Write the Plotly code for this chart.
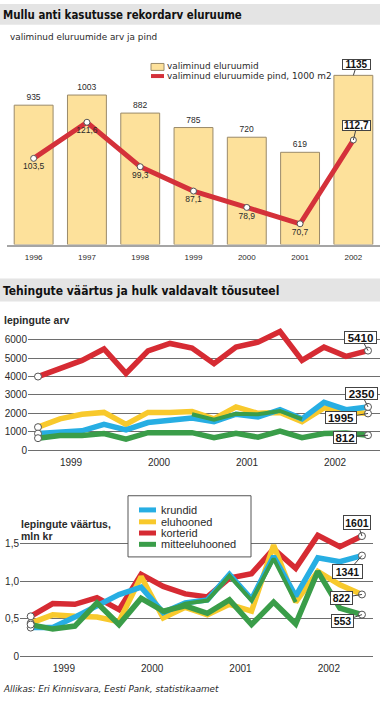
import plotly.graph_objects as go

# ---------------- data ----------------
years_top = ["1996", "1997", "1998", "1999", "2000", "2001", "2002"]
completed_dwellings = [935, 1003, 882, 785, 720, 619, 1135]
dwelling_area = [103.5, 121.6, 99.3, 87.1, 78.9, 70.7, 112.7]

quarters = ["1999 I", "1999 II", "1999 III", "1999 IV",
            "2000 I", "2000 II", "2000 III", "2000 IV",
            "2001 I", "2001 II", "2001 III", "2001 IV",
            "2002 I", "2002 II", "2002 III", "2002 IV"]
year_ticks = ["1999", "2000", "2001", "2002"]

count_korterid = [4000, 4450, 4880, 5500, 4170, 5400, 5800, 5550,
                  4700, 5600, 5870, 6450, 4880, 5600, 5100, 5410]
count_eluhooned = [1250, 1700, 1950, 2050, 1400, 2050, 2050, 2100,
                   1700, 2350, 2000, 2050, 1550, 2300, 2100, 1995]
count_krundid = [900, 1000, 1050, 1400, 1100, 1500, 1600, 1750,
                 1550, 1950, 1800, 2200, 1700, 2600, 2200, 2350]
count_mitteeluhooned = [650, 800, 800, 900, 600, 950, 950, 950,
                        680, 920, 700, 1040, 680, 900, 930, 812]
count_green_overlay = [None, None, None, None, None, None, None, 1950,
                       1650, 1980, 1950, 2130, 1680, None, None, None]

value_korterid = [0.53, 0.70, 0.69, 0.78, 0.62, 1.09, 0.93, 0.83,
                  0.79, 1.04, 1.10, 1.43, 1.17, 1.61, 1.46, 1.601]
value_krundid = [0.38, 0.38, 0.52, 0.66, 0.82, 0.92, 0.58, 0.71,
                 0.75, 1.09, 0.76, 1.33, 0.80, 1.31, 1.26, 1.341]
value_eluhooned = [0.44, 0.55, 0.53, 0.52, 0.46, 1.06, 0.51, 0.65,
                   0.55, 0.69, 0.60, 1.48, 0.72, 1.13, 0.95, 0.822]
value_mitteeluhooned = [0.42, 0.36, 0.40, 0.71, 0.42, 0.77, 0.60, 0.67,
                        0.57, 0.75, 0.42, 0.72, 0.43, 1.13, 0.64, 0.553]
value_green_overlay = [None, None, None, None, None, None, 0.58, 0.70,
                       0.74, 1.07, 0.74, 1.30, 0.72, None, None, None]

series_names = ["krundid", "eluhooned", "korterid", "mitteeluhooned"]

# ---------------- style ----------------
W, H = 380, 705
BAR_FILL = "#fde19b"
BAR_EDGE = "#9a8a6a"
RED_TOP = "#d4313a"
RED = "#d62b33"
YELLOW = "#f8c92c"
BLUE = "#27aee3"
GREEN = "#3a9d49"
GRID = "#6e6e6e"
TXT = "#2a2a2a"
COND = "DejaVu Sans Condensed"
VERD = "DejaVu Sans"
ARIAL = "Liberation Sans"


def px(x):
    return x / W


def py(y):
    return 1 - y / H


qx = list(range(len(quarters)))
mid_tickvals = [qx[i * 4] + 1.5 for i in range(len(year_ticks))]
top_idx = list(range(len(years_top)))

fig = go.Figure()

# ---------------- top chart ----------------
fig.add_trace(go.Bar(
    x=top_idx, y=completed_dwellings, xaxis="x", yaxis="y",
    marker=dict(color=BAR_FILL, line=dict(color=BAR_EDGE, width=1)),
    text=[str(v) for v in completed_dwellings[:-1]] + [""],
    textposition="outside", textfont=dict(family=ARIAL, size=8.5, color=TXT),
    constraintext="none", cliponaxis=False, showlegend=False, hoverinfo="skip"))
fig.add_trace(go.Scatter(
    x=top_idx, y=dwelling_area, xaxis="x", yaxis="y2",
    mode="lines+markers+text",
    line=dict(color=RED_TOP, width=5),
    marker=dict(size=6, color="white", line=dict(color="#555", width=1)),
    text=[f"{v:.1f}".replace(".", ",") for v in dwelling_area[:-1]] + [""],
    textposition="bottom center", textfont=dict(family=ARIAL, size=8.5, color=TXT),
    cliponaxis=False, showlegend=False, hoverinfo="skip"))

# ---------------- middle chart ----------------
mid_series = [(count_korterid, RED), (count_eluhooned, YELLOW),
              (count_krundid, BLUE), (count_mitteeluhooned, GREEN)]
for arr, col in mid_series:
    fig.add_trace(go.Scatter(x=qx, y=arr, xaxis="x3", yaxis="y3", mode="lines",
                             line=dict(color=col, width=5.5), showlegend=False,
                             hoverinfo="skip", cliponaxis=False))
fig.add_trace(go.Scatter(x=qx, y=count_green_overlay, xaxis="x3", yaxis="y3", mode="lines",
                         line=dict(color=GREEN, width=4), showlegend=False,
                         hoverinfo="skip", connectgaps=False))
for arr, col in mid_series:
    fig.add_trace(go.Scatter(x=[qx[0], qx[-1]], y=[arr[0], arr[-1]], xaxis="x3", yaxis="y3",
                             mode="markers",
                             marker=dict(size=7, color="white", line=dict(color="#555", width=1)),
                             showlegend=False, hoverinfo="skip", cliponaxis=False))

# ---------------- bottom chart ----------------
bot_series = [(value_korterid, RED), (value_eluhooned, YELLOW),
              (value_krundid, BLUE), (value_mitteeluhooned, GREEN)]
for arr, col in bot_series:
    fig.add_trace(go.Scatter(x=qx, y=arr, xaxis="x4", yaxis="y4", mode="lines",
                             line=dict(color=col, width=5.5), showlegend=False,
                             hoverinfo="skip", cliponaxis=False))
fig.add_trace(go.Scatter(x=qx, y=value_green_overlay, xaxis="x4", yaxis="y4", mode="lines",
                         line=dict(color=GREEN, width=4), showlegend=False,
                         hoverinfo="skip", connectgaps=False))
for arr, col in bot_series:
    fig.add_trace(go.Scatter(x=[qx[0], qx[-1]], y=[arr[0], arr[-1]], xaxis="x4", yaxis="y4",
                             mode="markers",
                             marker=dict(size=7, color="white", line=dict(color="#555", width=1)),
                             showlegend=False, hoverinfo="skip", cliponaxis=False))

# ---------------- axes ----------------
fig.update_layout(
    width=W, height=H, autosize=False,
    margin=dict(l=0, r=0, t=0, b=0, pad=0),
    paper_bgcolor="white", plot_bgcolor="rgba(0,0,0,0)",
    showlegend=False, bargap=0.27,
    xaxis=dict(domain=[px(7), 1], anchor="y", range=[-0.5, 6.5],
               tickvals=top_idx, ticktext=years_top,
               showline=True, linecolor="#a5a5a5", linewidth=2, ticks="",
               showgrid=False, zeroline=False, ticklabelstandoff=4,
               tickfont=dict(family=ARIAL, size=8, color=TXT), fixedrange=True),
    yaxis=dict(domain=[py(246.7), py(56)], range=[0, 1268], visible=False, fixedrange=True),
    yaxis2=dict(overlaying="y", anchor="x", range=[60.26, 155.06], visible=False, fixedrange=True),
    xaxis3=dict(domain=[px(28), 1], anchor="y3", range=[-0.4545, 15.545],
                tickvals=mid_tickvals, ticktext=year_ticks, ticks="",
                showgrid=False, zeroline=False, showline=False, ticklabelstandoff=5,
                tickfont=dict(family=ARIAL, size=10, color=TXT), fixedrange=True),
    yaxis3=dict(domain=[py(454), py(329.7)], anchor="x3", range=[0, 6700],
                tickvals=[0, 1000, 2000, 3000, 4000, 5000, 6000],
                showgrid=True, gridcolor=GRID, gridwidth=1,
                zeroline=True, zerolinecolor=GRID, zerolinewidth=1, ticks="",
                tickfont=dict(family=ARIAL, size=10, color=TXT), fixedrange=True),
    xaxis4=dict(domain=[px(20), px(373)], anchor="y4", range=[-0.484, 15.5],
                tickvals=mid_tickvals, ticktext=year_ticks, ticks="",
                showgrid=False, zeroline=False, showline=False, ticklabelstandoff=5,
                tickfont=dict(family=ARIAL, size=10, color=TXT), fixedrange=True),
    yaxis4=dict(domain=[py(661.7), py(529.4)], anchor="x4", range=[0, 1.75],
                tickvals=[0, 0.5, 1.0, 1.5], ticktext=["0", "0,5", "1,0", "1,5"],
                showgrid=True, gridcolor=GRID, gridwidth=1,
                zeroline=True, zerolinecolor=GRID, zerolinewidth=1, ticks="",
                tickfont=dict(family=ARIAL, size=10, color=TXT), fixedrange=True),
)

# ---------------- shapes ----------------
shapes = [
    dict(type="rect", xref="paper", yref="paper", x0=0, x1=1, y0=py(25), y1=py(4),
         fillcolor="#e4e4e4", line=dict(width=0), layer="below"),
    dict(type="rect", xref="paper", yref="paper", x0=0, x1=1, y0=py(304), y1=py(281),
         fillcolor="#e4e4e4", line=dict(width=0), layer="below"),
    # top legend swatches
    dict(type="rect", xref="paper", yref="paper", x0=px(151), x1=px(164), y0=py(71), y1=py(64),
         fillcolor=BAR_FILL, line=dict(color=BAR_EDGE, width=1)),
    dict(type="line", xref="paper", yref="paper", x0=px(151), x1=px(164), y0=py(76.7), y1=py(76.7),
         line=dict(color=RED_TOP, width=4)),
    # bottom legend box
    dict(type="rect", xref="paper", yref="paper", x0=px(128), x1=px(251), y0=py(561.7), y1=py(500),
         fillcolor="white", line=dict(color="#555", width=1), layer="above"),
]
leg_cols = [BLUE, YELLOW, RED, GREEN]
leg_y = [514.3, 526.3, 537.6, 549.0]
for col, yy in zip(leg_cols, leg_y):
    shapes.append(dict(type="line", xref="paper", yref="paper", x0=px(139), x1=px(156),
                       y0=py(yy), y1=py(yy), line=dict(color=col, width=5)))
fig.update_layout(shapes=shapes)

# ---------------- annotations ----------------
ann = []


def ptext(x, y, text, size, family=COND, color=TXT, xanchor="left", bold=False, italic=False):
    ann.append(dict(xref="paper", yref="paper", x=px(x), y=py(y), text=text,
                    showarrow=False, xanchor=xanchor, yanchor="middle",
                    font=dict(family=family, size=size, color=color,
                              weight="bold" if bold else "normal",
                              style="italic" if italic else "normal")))


ptext(1, 15, "Mullu anti kasutusse rekordarv eluruume", 11.4, color="#111", bold=True)
ptext(8, 37.5, "valiminud eluruumide arv ja pind", 8.9, family=VERD)
ptext(165, 66.5, "valiminud eluruumid", 8.9, family=VERD)
ptext(165, 77, "valiminud eluruumide pind, 1000 m2", 8.9, family=VERD)
ptext(1, 293, "Tehingute väärtus ja hulk valdavalt tõusuteel", 12, color="#111", bold=True)
ptext(2, 322.7, "lepingute arv", 10.5, family=ARIAL, bold=True)
ptext(19, 528.5, "lepingute väärtus,", 10.5, family=ARIAL, bold=True)
ptext(19, 540.5, "mln kr", 10.5, family=ARIAL, bold=True)
for name, yy in zip(series_names, leg_y):
    ptext(159, yy, name, 11, family=ARIAL)
ptext(1, 695, "Allikas: Eri Kinnisvara, Eesti Pank, statistikaamet", 8.8, family=VERD, italic=True)


def callout(xref, yref, x, y, text, ax, ay, size, w, h):
    ann.append(dict(xref=xref, yref=yref, x=x, y=y, text=f"<b>{text}</b>",
                    showarrow=True, arrowhead=0, arrowwidth=1, arrowcolor="#444",
                    ax=ax, ay=ay, standoff=0, startstandoff=0,
                    bgcolor="white", bordercolor="#444", borderwidth=1, borderpad=0,
                    width=w, height=h,
                    font=dict(family=ARIAL, size=size, color="#111")))


callout("x", "y", top_idx[-1], completed_dwellings[-1], str(completed_dwellings[-1]),
        3.5, -11, 10, 27, 9)
callout("x", "y2", top_idx[-1], dwelling_area[-1],
        f"{dwelling_area[-1]:.1f}".replace(".", ","), 3.5, -14.5, 10, 27, 9)

callout("x3", "y3", qx[-1], count_korterid[-1], str(count_korterid[-1]), -7.5, -13.6, 11.5, 31, 11)
callout("x3", "y3", qx[-1], count_krundid[-1], str(count_krundid[-1]), -6.5, -13, 11.5, 31, 11)
callout("x3", "y3", qx[-1], count_eluhooned[-1], str(count_eluhooned[-1]), -27, 4.5, 11.5, 30, 11)
callout("x3", "y3", qx[-1], count_mitteeluhooned[-1], str(count_mitteeluhooned[-1]), -23, 2, 11.5, 22, 11)

callout("x4", "y4", qx[-1], value_korterid[-1], str(round(value_korterid[-1] * 1000)), -4.7, -13.7, 10.5, 26, 13)
callout("x4", "y4", qx[-1], value_krundid[-1], str(round(value_krundid[-1] * 1000)), -14, 16, 10.5, 29, 13)
callout("x4", "y4", qx[-1], value_eluhooned[-1], str(round(value_eluhooned[-1] * 1000)), -20, 3.2, 10.5, 21, 12)
callout("x4", "y4", qx[-1], value_mitteeluhooned[-1], str(round(value_mitteeluhooned[-1] * 1000)), -19, 6.5, 10.5, 21, 12)

fig.update_layout(annotations=ann)

fig.write_html("out.html", config={"displayModeBar": False},
               post_script="document.body.style.margin='0';")
